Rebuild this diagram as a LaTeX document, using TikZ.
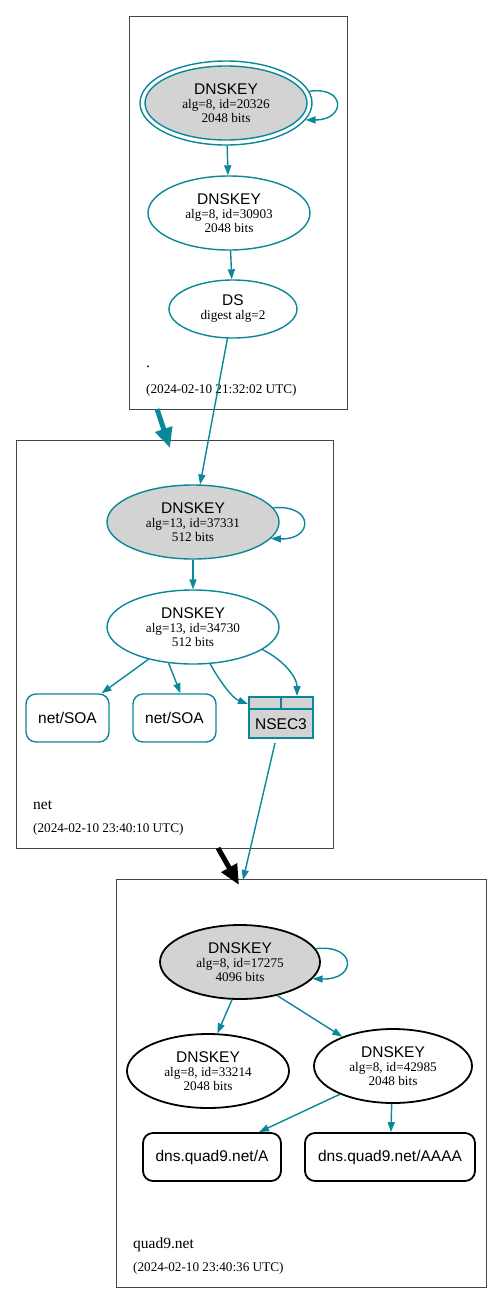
\documentclass[tikz,border=0pt]{standalone}
\usepackage{fontspec}
\setmainfont{Liberation Serif}
\newfontfamily\hel{Liberation Sans}
\usetikzlibrary{shapes.geometric,arrows.meta,calc}
\definecolor{teal1}{HTML}{0A879A}
\definecolor{lgray}{HTML}{D3D3D3}
\definecolor{clus}{HTML}{444444}
\newcommand\bigt[1]{{\hel\fontsize{15.5}{14}\selectfont #1}}
\newcommand\smt[1]{{\fontsize{13.2}{14}\selectfont #1}}
\begin{document}
\begin{tikzpicture}[x=1pt,y=-1pt,
  every node/.style={font=\fontsize{13}{14}\selectfont},
  cluster/.style={draw=clus,line width=0.8pt},
  key/.style={ellipse,draw=teal1,line width=1.4pt,inner sep=0pt,align=center},
  bkey/.style={ellipse,draw=black,line width=1.8pt,inner sep=0pt,align=center},
  rrec/.style={rectangle,rounded corners=10pt,draw=teal1,line width=1.4pt,inner sep=0pt,minimum height=48pt},
  brec/.style={rectangle,rounded corners=10pt,draw=black,line width=1.8pt,inner sep=0pt,minimum height=48pt},
  edge/.style={draw=teal1,line width=1.4pt,-{Triangle[length=10pt,width=7pt]}},
  bigarrow/.style={line width=5pt,-{Triangle[length=20pt,width=17pt]}},
  clab/.style={anchor=west,inner sep=0pt,font=\fontsize{15.5}{16}\selectfont},
  dlab/.style={anchor=west,inner sep=0pt,font=\fontsize{13.2}{14}\selectfont}]
\useasboundingbox (0,0) rectangle (503,1304);
\fill[white] (0,0) rectangle (503,1304);

% clusters
\draw[cluster] (129,16) rectangle (347,409);
\draw[cluster] (16,440) rectangle (333,848);
\draw[cluster] (116,879) rectangle (486,1287);
\node[clab] (rootname) at (146,367) {.};
\node[dlab] (rootdate) at (146,390) {(2024-02-10 21:32:02 UTC)};
\node[clab] (netname) at (33,805) {net};
\node[dlab] (netdate) at (33,829) {(2024-02-10 23:40:10 UTC)};
\node[clab] (qname) at (133,1245) {quad9.net};
\node[dlab] (qdate) at (133,1268) {(2024-02-10 23:40:36 UTC)};

% root zone
\node[key,minimum width=172pt,minimum height=84pt] (rkskout) at (226,103) {};
\node[key,fill=lgray,minimum width=162pt,minimum height=74pt] (rksk) at (226,103)
  {\bigt{DNSKEY}\\\smt{alg=8, id=20326}\\\smt{2048 bits}};
\node[key,minimum width=162pt,minimum height=74pt] (rzsk) at (229,213)
  {\bigt{DNSKEY}\\\smt{alg=8, id=30903}\\\smt{2048 bits}};
\node[key,minimum width=128pt,minimum height=58pt] (rds) at (233,309)
  {\bigt{DS}\\\smt{digest alg=2}};

\draw[edge] (rkskout.8) .. controls (346,86) and (346,120) .. (rkskout.348);
\draw[edge] (rkskout) -- (rzsk);
\draw[edge] (rzsk) -- (rds);

% net zone
\node[key,fill=lgray,minimum width=172pt,minimum height=74pt] (nksk) at (193,522)
  {\bigt{DNSKEY}\\\smt{alg=13, id=37331}\\\smt{512 bits}};
\node[key,minimum width=172pt,minimum height=74pt] (nzsk) at (193,627)
  {\bigt{DNSKEY}\\\smt{alg=13, id=34730}\\\smt{512 bits}};
\node[rrec,minimum width=83pt] (soa1) at (67.5,718) {\bigt{net/SOA}};
\node[rrec,minimum width=83pt] (soa2) at (174.5,718) {\bigt{net/SOA}};
\node[rectangle,draw=teal1,fill=lgray,line width=2pt,minimum width=64pt,minimum height=41pt,inner sep=0pt] (nsec3) at (281,717.5) {};
\draw[teal1,line width=2pt] ($(nsec3.north west)+(0,13)$) -- ($(nsec3.north east)+(0,13)$);
\draw[teal1,line width=2pt] (nsec3.north) -- ($(nsec3.north)+(0,13)$);
\node[inner sep=0pt] (nsec3lbl) at (281,724) {\bigt{NSEC3}};

\draw[edge] (rds) -- (nksk);
\draw[edge] (nksk.10) .. controls (314,504) and (314,540) .. (nksk.348);
\draw[edge] (nksk) -- (nzsk);
\draw[edge] (nzsk) -- (soa1);
\draw[edge] (nzsk.236) -- ($(soa2.north)+(6,0)$);
\draw[edge] (nzsk.295) .. controls (219,680) and (232,698) .. ($(nsec3.north west)+(0,8)$);
\draw[edge] (nzsk.342) .. controls (285,661) and (297,678) .. ($(nsec3.north)+(16,0)$);

% quad9 zone
\node[bkey,fill=lgray,minimum width=160pt,minimum height=74pt] (qksk) at (240,962)
  {\bigt{DNSKEY}\\\smt{alg=8, id=17275}\\\smt{4096 bits}};
\node[bkey,minimum width=162pt,minimum height=74pt] (qk1) at (208,1071)
  {\bigt{DNSKEY}\\\smt{alg=8, id=33214}\\\smt{2048 bits}};
\node[bkey,minimum width=158pt,minimum height=74pt] (qk2) at (393,1066)
  {\bigt{DNSKEY}\\\smt{alg=8, id=42985}\\\smt{2048 bits}};
\node[brec,minimum width=138pt] (qa) at (212,1157) {\bigt{dns.quad9.net/A}};
\node[brec,minimum width=170pt] (qaaaa) at (390,1157) {\bigt{dns.quad9.net/AAAA}};

\draw[edge] (qksk.10) .. controls (357,944) and (357,980) .. (qksk.347);
\draw[edge] (qksk.258) -- (qk1.76);
\draw[edge] (qksk.318) -- (qk2.150);
\draw[edge] (qk2.208) -- ($(qa.north)+(47,0)$);
\draw[edge] (qk2.268) -- ($(qaaaa.north)+(1,0)$);

% inter-zone
\coordinate (rbot) at (157,409);
\coordinate (ntop) at (170,448);
\coordinate (nbot) at (218,848);
\coordinate (qtop) at (239,885);
\coordinate (qtop2) at (243,880);
\draw[bigarrow,teal1] (rbot) -- (ntop);
\draw[bigarrow,black] (nbot) -- (qtop);
\draw[edge] ($(nsec3.south)+(-6,4)$) -- (qtop2);
\end{tikzpicture}
\end{document}
